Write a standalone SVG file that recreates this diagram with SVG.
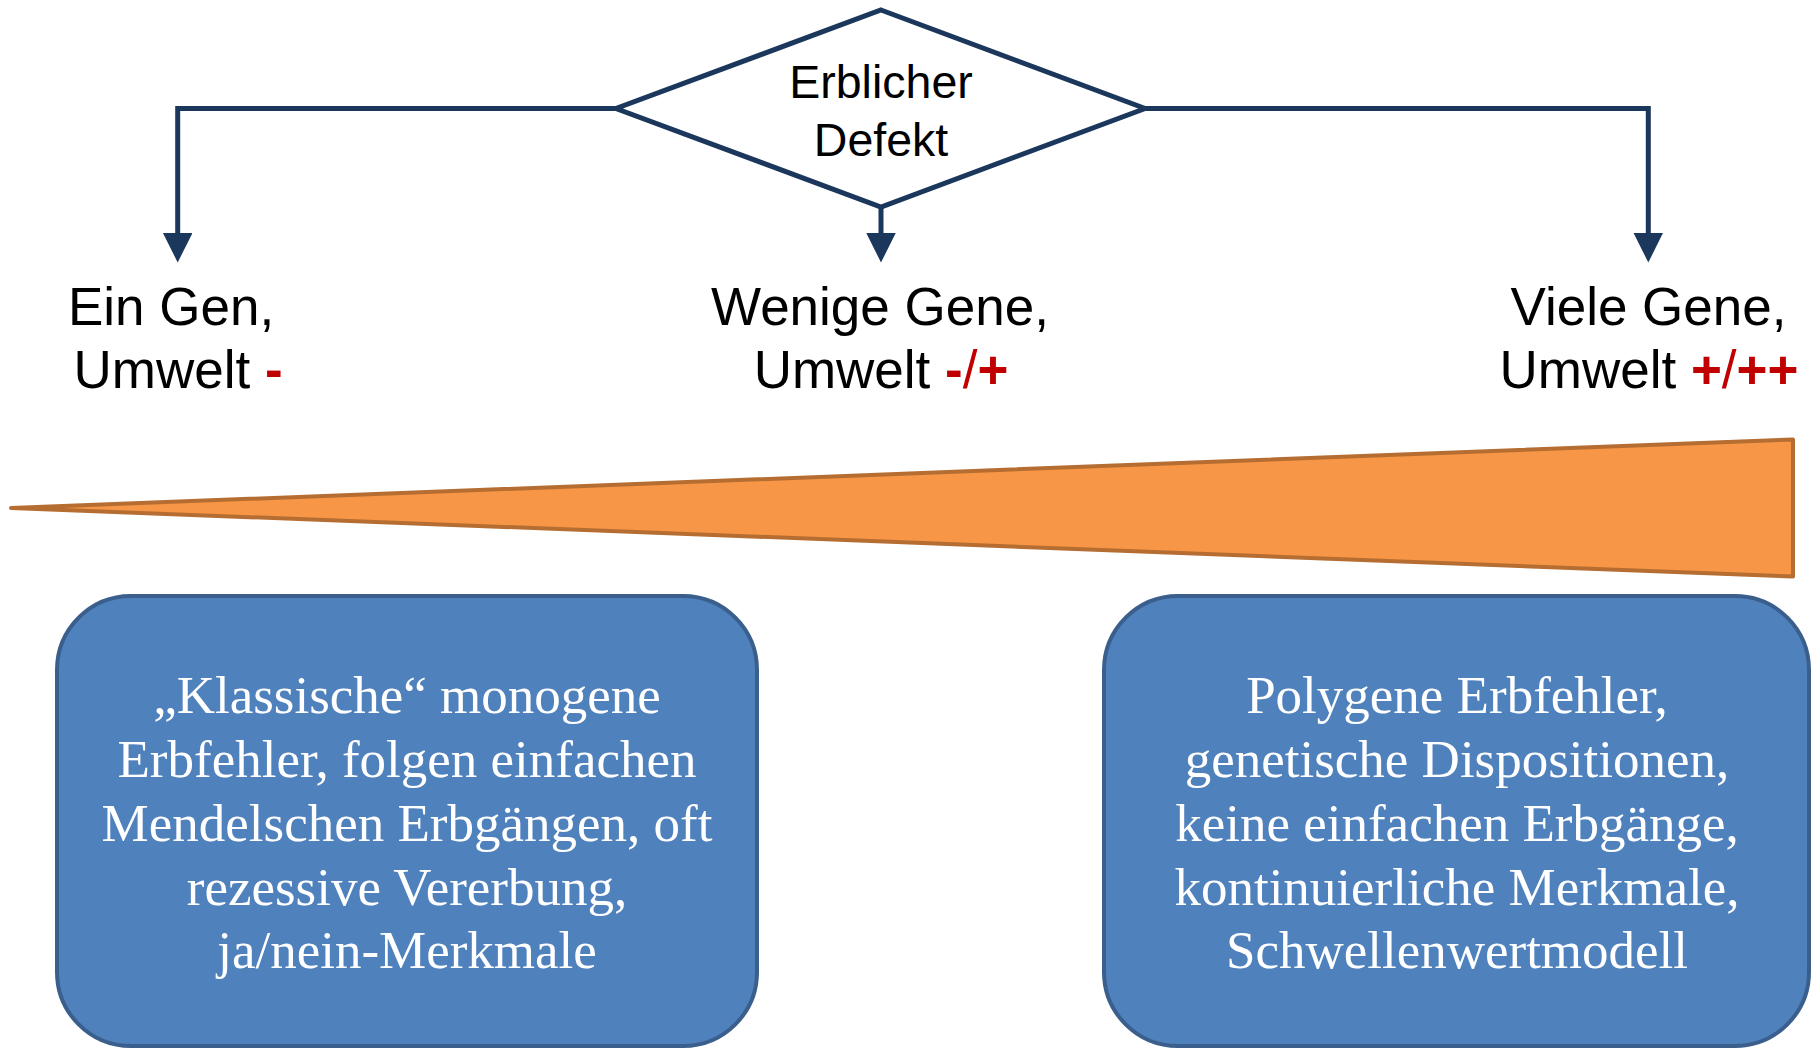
<svg xmlns="http://www.w3.org/2000/svg" width="1814" height="1049" viewBox="0 0 1814 1049">
<style>
.conn{fill:none;stroke:#1B375C;stroke-width:5;stroke-linejoin:miter}
.dia{fill:#FFFFFF;stroke:#1B375C;stroke-width:5;stroke-linejoin:miter}
.lbl{font-family:"Liberation Sans",Arial,sans-serif;fill:#000000;text-anchor:middle}
.red{fill:#C00000;font-weight:bold}
.thin{font-weight:normal}
.box{fill:#4F81BD;stroke:#3A5F8C;stroke-width:4}
.btxt{font-family:"Liberation Serif","Times New Roman",serif;font-size:53px;fill:#FFFFFF;text-anchor:middle}
</style>
<defs>
<marker id="arr" markerUnits="userSpaceOnUse" markerWidth="30" markerHeight="30" refX="0" refY="14.75" orient="auto">
<path d="M0,0 L29.5,14.75 L0,29.5 Z" fill="#1B375C"/>
</marker>
</defs>
<g id="connectors">
<path class="conn" d="M616,108.5 H177.7 V233" marker-end="url(#arr)"/>
<path class="conn" d="M881,207 V233" marker-end="url(#arr)"/>
<path class="conn" d="M1145,108.5 H1648.3 V233" marker-end="url(#arr)"/>
</g>
<g id="decision">
<polygon class="dia" points="881,10 1145,108.5 881,207 616,108.5"/>
<text class="lbl" font-size="46.5" x="881" y="98">Erblicher</text>
<text class="lbl" font-size="46.5" x="881" y="156">Defekt</text>
</g>
<g id="ein-gen">
<text class="lbl" font-size="53" x="171" y="325">Ein Gen,</text>
<text class="lbl" font-size="53" x="178" y="388">Umwelt <tspan class="red">-</tspan></text>
</g>
<g id="wenige-gene">
<text class="lbl" font-size="53" x="880" y="325">Wenige Gene,</text>
<text class="lbl" font-size="53" x="881" y="388">Umwelt <tspan class="red">-</tspan><tspan class="red thin">/</tspan><tspan class="red">+</tspan></text>
</g>
<g id="viele-gene">
<text class="lbl" font-size="53" x="1648.5" y="325">Viele Gene,</text>
<text class="lbl" font-size="53" x="1649" y="388">Umwelt <tspan class="red">+</tspan><tspan class="red thin">/</tspan><tspan class="red">++</tspan></text>
</g>
<g id="gradient-wedge">
<polygon points="11,508 1793,439.5 1793,576.5" fill="#F79646" stroke="#B66D31" stroke-width="4" stroke-linejoin="round"/>
</g>
<g id="box-monogen">
<rect class="box" x="57" y="596" width="700" height="450" rx="74" ry="74"/>
<text class="btxt" x="407" y="713">„Klassische“ monogene</text>
<text class="btxt" x="407" y="777">Erbfehler, folgen einfachen</text>
<text class="btxt" x="407" y="841">Mendelschen Erbgängen, oft</text>
<text class="btxt" x="407" y="905">rezessive Vererbung,</text>
<text class="btxt" x="407" y="968">ja/nein-Merkmale</text>
</g>
<g id="box-polygen">
<rect class="box" x="1104" y="596" width="705" height="450" rx="74" ry="74"/>
<text class="btxt" x="1457" y="713">Polygene Erbfehler,</text>
<text class="btxt" x="1457" y="777">genetische Dispositionen,</text>
<text class="btxt" x="1457" y="841">keine einfachen Erbgänge,</text>
<text class="btxt" x="1457" y="905">kontinuierliche Merkmale,</text>
<text class="btxt" x="1457" y="968">Schwellenwertmodell</text>
</g>
</svg>
